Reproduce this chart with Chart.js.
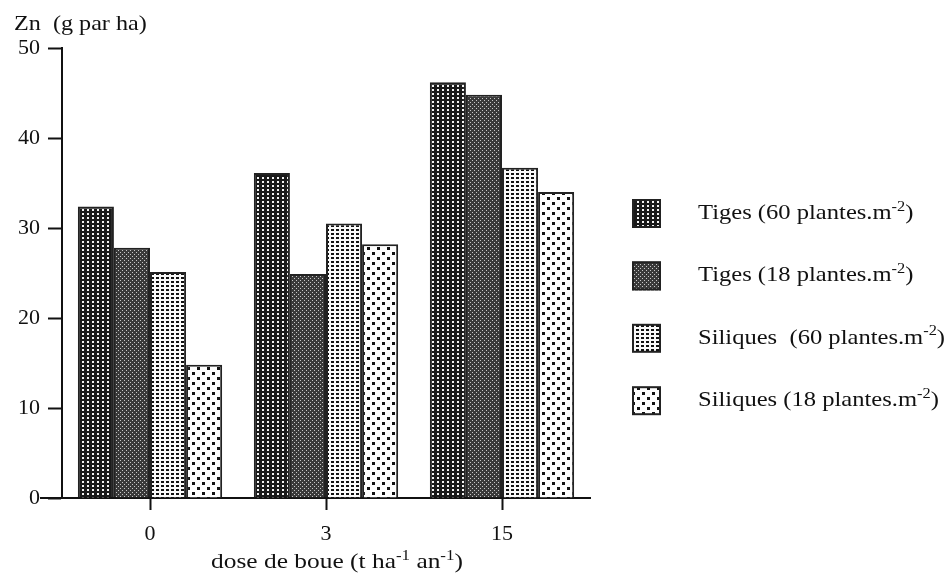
<!DOCTYPE html>
<html>
<head>
<meta charset="utf-8">
<script src="https://cdn.jsdelivr.net/npm/chart.js@4.4.0/dist/chart.umd.min.js"></script>
<style>
  html, body { margin: 0; padding: 0; background: #fff; }
  #wrap { width: 949px; height: 574px; }
</style>
</head>
<body>
<div id="wrap"><canvas id="c" width="949" height="574"></canvas></div>
<script>
// ---- data ----
const categories = ['0', '3', '15'];
const tigesDense = [32.4, 36.1, 46.2];
const tigesSparse = [27.8, 24.9, 44.8];
const siliquesDense = [25.1, 30.5, 36.7];
const siliquesSparse = [14.8, 28.2, 34.0];
const seriesLabels = [
  'Tiges (60 plantes.m^{-2})',
  'Tiges (18 plantes.m^{-2})',
  'Siliques  (60 plantes.m^{-2})',
  'Siliques (18 plantes.m^{-2})'
];
const yTicks = [0, 10, 20, 30, 40, 50];
const yTitle = 'Zn  (g par ha)';
const xTitle = 'dose de boue (t ha^{-1} an^{-1})';

// ---- patterns ----
function makePattern(w, h, bg, fg, dots) {
  const c = document.createElement('canvas');
  c.width = w; c.height = h;
  const g = c.getContext('2d');
  g.fillStyle = bg; g.fillRect(0, 0, w, h);
  g.fillStyle = fg;
  dots.forEach(d => g.fillRect(d[0], d[1], d[2], d[3]));
  return g.createPattern(c, 'repeat');
}
const ctx = document.getElementById('c').getContext('2d');
const patterns = [
  makePattern(5, 4, '#1a1a1a', '#f4f4f4', [[2, 1, 2, 2]]),
  makePattern(4, 4, '#3a3a3a', '#c8c8c8', [[0, 0, 1, 1], [2, 2, 1, 1]]),
  makePattern(5, 4, '#fafafa', '#111', [[1, 1, 3, 2]]),
  makePattern(10, 10, '#fdfdfd', '#111', [[2, 2, 3, 3], [7, 7, 3, 3]])
];
const seriesData = [tigesDense, tigesSparse, siliquesDense, siliquesSparse];

const FONT = '"Liberation Serif", "Times New Roman", serif';

function parseRich(s) {
  const parts = [];
  const re = /\^\{([^}]*)\}/g;
  let last = 0, m;
  while ((m = re.exec(s))) {
    if (m.index > last) parts.push({ t: s.slice(last, m.index), sup: false });
    parts.push({ t: m[1], sup: true });
    last = re.lastIndex;
  }
  if (last < s.length) parts.push({ t: s.slice(last), sup: false });
  return parts;
}
// draws text with superscripts, stretched horizontally by sx
function drawRich(c, s, x, y, size, align, sx) {
  const parts = parseRich(s);
  const supSize = Math.round(size * 0.68);
  let total = 0;
  parts.forEach(p => {
    c.font = (p.sup ? supSize : size) + 'px ' + FONT;
    p.w = c.measureText(p.t).width;
    total += p.w;
  });
  c.save();
  c.translate(x, y);
  c.scale(sx, 1);
  let cx = align === 'center' ? -total / 2 : 0;
  c.textAlign = 'left';
  c.textBaseline = 'alphabetic';
  parts.forEach(p => {
    c.font = (p.sup ? supSize : size) + 'px ' + FONT;
    c.fillText(p.t, cx, p.sup ? -size * 0.4 : 0);
    cx += p.w;
  });
  c.restore();
}

const decor = {
  id: 'decor',
  afterDraw(chart) {
    const c = chart.ctx;
    const area = chart.chartArea;
    c.save();
    c.fillStyle = '#111';
    // y title
    drawRich(c, yTitle, 14, 30, 21, 'left', 1.15);
    // x title
    drawRich(c, xTitle, 337, 568, 21, 'center', 1.21);
    // x axis extension to the left
    c.strokeStyle = '#111';
    c.lineWidth = 2;
    c.beginPath();
    c.moveTo(40, area.bottom);
    c.lineTo(area.left, area.bottom);
    c.stroke();
    // legend
    const top0 = 199, step = 62.4;
    seriesLabels.forEach((lab, i) => {
      const y = top0 + i * step;
      c.fillStyle = patterns[i];
      c.fillRect(632, y, 29, 29);
      c.strokeStyle = '#222';
      c.lineWidth = 2;
      c.strokeRect(633, y + 1, 27, 27);
      c.fillStyle = '#111';
      drawRich(c, lab, 698, y + 20, 21, 'left', 1.17);
    });
    c.restore();
  }
};

new Chart(ctx, {
  type: 'bar',
  data: {
    labels: categories,
    datasets: seriesData.map((d, i) => ({
      label: seriesLabels[i],
      data: d,
      backgroundColor: patterns[i],
      borderColor: '#222',
      borderWidth: 2,
      categoryPercentage: 0.82,
      barPercentage: 1.0
    }))
  },
  options: {
    responsive: false,
    animation: false,
    devicePixelRatio: 1,
    layout: { padding: { left: 0, top: 48, right: 359, bottom: 0 } },
    plugins: { legend: { display: false }, tooltip: { enabled: false } },
    scales: {
      x: {
        afterFit(s) { s.height = 76; },
        grid: { display: true, drawOnChartArea: false, drawTicks: true, tickLength: 12, tickWidth: 2, tickColor: '#111', offset: false },
        border: { display: true, color: '#111', width: 2 },
        ticks: { color: '#111', padding: 11, font: { family: FONT, size: 22 } }
      },
      y: {
        min: 0, max: 50,
        afterFit(s) { s.width = 62; },
        afterBuildTicks(s) { s.ticks = yTicks.map(v => ({ value: v })); },
        grid: { display: true, drawOnChartArea: false, drawTicks: true, tickLength: 14, tickWidth: 2, tickColor: '#111' },
        border: { display: true, color: '#111', width: 2 },
        ticks: { color: '#111', padding: 8, font: { family: FONT, size: 22 } }
      }
    }
  },
  plugins: [decor]
});
</script>
</body>
</html>
